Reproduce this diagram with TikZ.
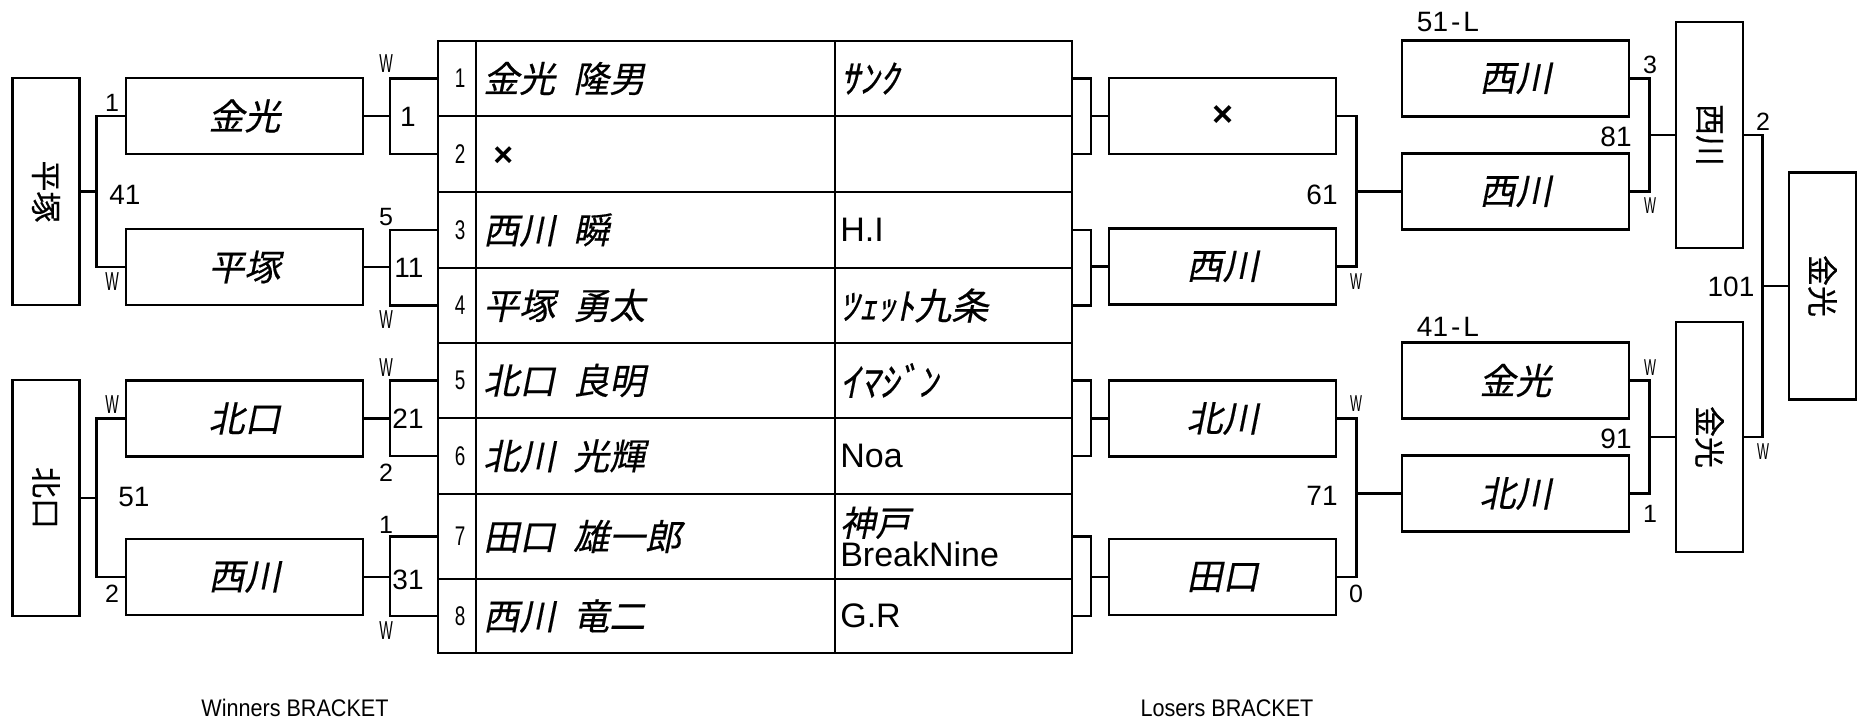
\documentclass[tikz,border=0pt]{standalone}
\usepackage{fontspec}
\setmainfont{Liberation Sans}
\newfontfamily\jp{Noto Sans CJK JP}[FakeBold=0.4]
\newfontfamily\jpit{Noto Sans CJK JP}[FakeSlant=0.2, FakeBold=0.4]
\newfontfamily\narrow{Liberation Sans}[FakeStretch=0.55]
\newfontfamily\numfont{Liberation Sans}[FakeStretch=0.7]
\newfontfamily\semi{Liberation Sans}[FakeStretch=0.9]
\newcommand\namegap{\hspace{.5em}}
\usetikzlibrary{positioning}
\tikzset{
    box/.style = {draw, minimum width=237pt, minimum height=76pt, inner sep=0pt, font=\jpit\fontsize{36}{38}\selectfont},
    lbox/.style = {box, minimum width=227pt},
    vbox/.style = {draw, minimum width=67pt, inner sep=0pt, font=\jp\fontsize{31}{33}\selectfont},
    numcell/.style = {draw, minimum width=38pt, inner sep=0pt, outer sep=0pt},
    namecell/.style = {draw, minimum width=359pt, inner sep=0pt, outer sep=0pt},
    teamcell/.style = {draw, minimum width=237pt, inner sep=0pt, outer sep=0pt},
    rowno/.style = {inner sep=0pt, xshift=3pt, font=\numfont\fontsize{27}{29}\selectfont},
    pname/.style = {anchor=west, inner sep=0pt, xshift=6pt, font=\jpit\fontsize{36}{38}\selectfont},
    tname/.style = {anchor=west, inner sep=0pt, xshift=4pt, align=left, font=\fontsize{34}{30}\selectfont},
    kana/.style = {tname, font=\jpit\fontsize{39}{41}\selectfont},
    score/.style = {inner sep=0pt, font=\fontsize{28}{30}\selectfont},
    num/.style = {inner sep=0pt, font=\fontsize{25}{27}\selectfont},
    wlab/.style = {inner sep=0pt, font=\narrow\fontsize{26}{28}\selectfont},
    wsmall/.style = {inner sep=0pt, font=\narrow\fontsize{23}{25}\selectfont},
    caption/.style = {inner sep=0pt, font=\semi\fontsize{24}{26}\selectfont}
}

\begin{document}
\begin{tikzpicture}[x=1pt, y=-1pt, line width=2.6pt]
\useasboundingbox (0,0) rectangle (1860,723);

% entry table
\foreach \r/\ya/\yb in {1/41/116, 2/116/192, 3/192/268, 4/268/343, 5/343/418, 6/418/494, 7/494/579, 8/579/653} {
    \pgfmathsetmacro\h{\yb-\ya}
    \pgfmathsetmacro\yc{(\ya+\yb)/2}
    \node[numcell, minimum height=\h pt] (n\r) at (457,\yc) {};
    \node[rowno] at (n\r) {\r};
    \node[namecell, minimum height=\h pt] (p\r) at (655.5,\yc) {};
    \node[teamcell, minimum height=\h pt] (t\r) at (953.5,\yc) {};
}
\node[pname] at (p1.west) {金光\namegap 隆男};
\node[pname, font=\fontspec{Liberation Sans}\bfseries\fontsize{34}{36}\selectfont, xshift=10pt, yshift=-3pt] at (p2.west) {×};
\node[pname] at (p3.west) {西川\namegap 瞬};
\node[pname] at (p4.west) {平塚\namegap 勇太};
\node[pname] at (p5.west) {北口\namegap 良明};
\node[pname] at (p6.west) {北川\namegap 光輝};
\node[pname] at (p7.west) {田口\namegap 雄一郎};
\node[pname] at (p8.west) {西川\namegap 竜二};
\node[kana] at (t1.west) {ｻﾝｸ};
\node[tname] at (t3.west) {H.I};
\node[kana, font=\jpit\fontsize{37}{39}\selectfont] at (t4.west) {ﾂｪｯﾄ九条};
\node[kana] at (t5.west) {ｲﾏｼﾞﾝ};
\node[tname] at (t6.west) {Noa};
\node[tname] at (t7.west) {{\jpit\fontsize{35}{30}\selectfont 神戸}\\BreakNine};
\node[tname] at (t8.west) {G.R};

% winners bracket
\node[box] (wkane) at (244.5,116) {金光};
\node[box] (whira) at (244.5,267) {平塚};
\node[box] (wkita) at (244.5,418.5) {北口};
\node[box] (wnishi) at (244.5,577) {西川};
\node[vbox, minimum height=227pt] (vhira) at (46,191.5) {\rotatebox{-90}{平塚}};
\node[vbox, minimum height=236pt] (vkita) at (46,498) {\rotatebox{-90}{北口}};

\draw (n1.west) -- ++(-48,0) coordinate (b1) |- (n2.west);
\draw (n3.west) -- ++(-48,0) coordinate (b2) |- (n4.west);
\draw (n5.west) -- ++(-48,0) coordinate (b3) |- (n6.west);
\draw (n7.west) -- ++(-48,0) coordinate (b4) |- (n8.west);
\draw (wkane.east) -- (wkane.east -| b1);
\draw (whira.east) -- (whira.east -| b2);
\draw (wkita.east) -- (wkita.east -| b3);
\draw (wnishi.east) -- (wnishi.east -| b4);
\draw (wkane.west) -- ++(-28,0) coordinate (c41) |- (whira.west);
\draw (wkita.west) -- ++(-28,0) coordinate (c51) |- (wnishi.west);
\draw (vhira.east) -- (vhira.east -| c41);
\draw (vkita.east) -- (vkita.east -| c51);

\node[num] at (112,103) {1};
\node[wlab] at (112,282) {W};
\node[score] at (125,195) {41};
\node[wlab] at (112,405) {W};
\node[num] at (112,594) {2};
\node[score] at (134,497) {51};
\node[wlab] at (386,64) {W};
\node[score] at (408,117) {1};
\node[num] at (386,217) {5};
\node[score] at (409,268) {11};
\node[wlab] at (386,320) {W};
\node[wlab] at (386,368) {W};
\node[score] at (408,419) {21};
\node[num] at (386,473) {2};
\node[num] at (386,525) {1};
\node[score] at (408,580) {31};
\node[wlab] at (386,631) {W};

% losers bracket
\node[lbox] (lbatsu) at (1222.5,116) {\fontspec{Liberation Sans}\bfseries ×};
\node[lbox] (lnishi) at (1222.5,266.5) {西川};
\node[lbox] (lkita) at (1222.5,418.5) {北川};
\node[lbox] (ltagu) at (1222.5,577) {田口};
\node[lbox] (snishia) at (1515.5,78.5) {西川};
\node[lbox] (snishib) at (1515.5,191.5) {西川};
\node[lbox] (skane) at (1515.5,380.5) {金光};
\node[lbox] (skita) at (1515.5,493.5) {北川};
\node[vbox, minimum height=226pt] (vnishi) at (1709.5,135) {\rotatebox{-90}{西川}};
\node[vbox, minimum height=230pt] (vkane) at (1709.5,437) {\rotatebox{-90}{金光}};
\node[vbox, minimum height=227pt] (final) at (1822.5,286) {\rotatebox{-90}{金光}};

\draw (t1.east) -- ++(19,0) coordinate (e1) |- (t2.east);
\draw (t3.east) -- ++(19,0) coordinate (e2) |- (t4.east);
\draw (t5.east) -- ++(19,0) coordinate (e3) |- (t6.east);
\draw (t7.east) -- ++(19,0) coordinate (e4) |- (t8.east);
\draw (lbatsu.west) -- (lbatsu.west -| e1);
\draw (lnishi.west) -- (lnishi.west -| e2);
\draw (lkita.west) -- (lkita.west -| e3);
\draw (ltagu.west) -- (ltagu.west -| e4);
\draw (lbatsu.east) -- ++(19,0) coordinate (k61) |- (lnishi.east);
\draw (lkita.east) -- ++(19,0) coordinate (k71) |- (ltagu.east);
\draw (snishib.west) -- (snishib.west -| k61);
\draw (skita.west) -- (skita.west -| k71);
\draw (snishia.east) -- ++(19,0) coordinate (k81) |- (snishib.east);
\draw (skane.east) -- ++(19,0) coordinate (k91) |- (skita.east);
\draw (vnishi.west) -- (vnishi.west -| k81);
\draw (vkane.west) -- (vkane.west -| k91);
\draw (vnishi.east) -- ++(18,0) coordinate (k101) |- (vkane.east);
\draw (final.west) -- (final.west -| k101);

\node[wsmall] at (1356,282) {W};
\node[score] at (1322,195) {61};
\node[wsmall] at (1356,404) {W};
\node[score] at (1322,496) {71};
\node[num] at (1356,594) {0};
\node[score] at (1448,22) {51\hspace{3pt}-\hspace{3pt}L};
\node[num] at (1650,65) {3};
\node[score] at (1616,137) {81};
\node[wsmall] at (1650,206) {W};
\node[num] at (1763,122) {2};
\node[score] at (1731,287) {101};
\node[score] at (1448,327) {41\hspace{3pt}-\hspace{3pt}L};
\node[wsmall] at (1650,368) {W};
\node[score] at (1616,439) {91};
\node[num] at (1650,514) {1};
\node[wsmall] at (1763,452) {W};

\node[caption] at (295,708) {Winners BRACKET};
\node[caption] at (1227,708) {Losers BRACKET};
\end{tikzpicture}
\end{document}
